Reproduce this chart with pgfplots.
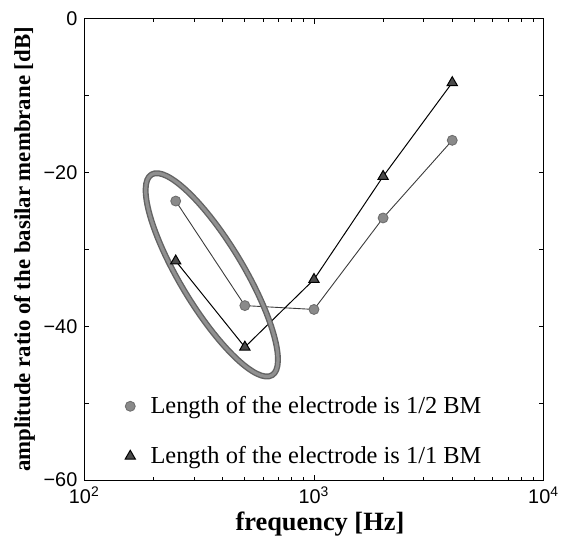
\documentclass[border=0pt]{standalone}
\usepackage{fontspec}
\setmainfont{Liberation Serif}
\setsansfont{Liberation Sans}
\usepackage{pgfplots}
\pgfplotsset{compat=1.18}
\definecolor{dotgray}{HTML}{8A8A8A}
\definecolor{trigray}{HTML}{4A4A4A}
\definecolor{ringgray}{HTML}{7C7C7C}
\begin{document}
\begin{tikzpicture}
\begin{axis}[
  scale only axis,
  width=231.5pt,
  height=232.5pt,
  xmode=log,
  xmin=100, xmax=10000,
  ymin=-60, ymax=0,
  xtick={100,1000,10000},
  minor xtick={200,300,400,500,600,700,800,900,2000,3000,4000,5000,6000,7000,8000,9000},
  xticklabels={10\textsuperscript{2},10\textsuperscript{3},10\textsuperscript{4}},
  ytick={-60,-50,...,0},
  yticklabels={−60,,−40,,−20,,0},
  tick label style={font=\sffamily\fontsize{10}{11}\selectfont},
  xticklabel style={inner sep=1pt, yshift=-2pt},
  major tick length=2.5pt,
  minor tick length=1.5pt,
  tick style={black, line width=0.4pt},
  axis line style={black, line width=0.6pt},
  xlabel={\bfseries frequency [Hz]},
  ylabel={\bfseries amplitude ratio of the basilar membrane [dB]},
  xlabel style={font=\fontsize{13.3}{15}\selectfont, yshift=0.5pt, xshift=3pt},
  ylabel style={font=\fontsize{11.5}{13}\selectfont, yshift=-2.5pt},
  legend style={draw=none, fill=none, at={(0.075,0.2)}, anchor=north west,
    row sep=11pt, font=\fontsize{12.3}{14}\selectfont, cells={anchor=west}},
  legend image code/.code={\draw[#1] plot coordinates {(0.05cm,0cm)};\path (0.33cm,0cm);},
]
\addplot[color=trigray!80!black, line width=0.45pt, mark=*, mark size=2.5pt,
  mark options={fill=dotgray, draw=dotgray!80!black}]
  coordinates {(250,-23.7) (500,-37.3) (1000,-37.8) (2000,-25.9) (4000,-15.8)};
\addplot[color=black, line width=0.5pt, mark=triangle*, mark size=3pt,
  mark options={fill=trigray, draw=black}]
  coordinates {(250,-31.5) (500,-42.7) (1000,-33.9) (2000,-20.5) (4000,-8.3)};
\legend{Length of the electrode is 1/2 BM, Length of the electrode is 1/1 BM}
\draw[ringgray!80!black, line width=3pt, rotate around={-59:(axis cs:359,-33.3)}]
  (axis cs:359,-33.3) ellipse [x radius=59pt, y radius=16pt];
\draw[ringgray!85!white, line width=1.6pt, rotate around={-59:(axis cs:359,-33.3)}]
  (axis cs:359,-33.3) ellipse [x radius=59pt, y radius=16pt];
\end{axis}
\path ([yshift=9.5pt]current axis.north) ([yshift=-29.5pt]current axis.south)
  ([xshift=-42.5pt]current axis.west) ([xshift=6.5pt]current axis.east);
\end{tikzpicture}
\end{document}
